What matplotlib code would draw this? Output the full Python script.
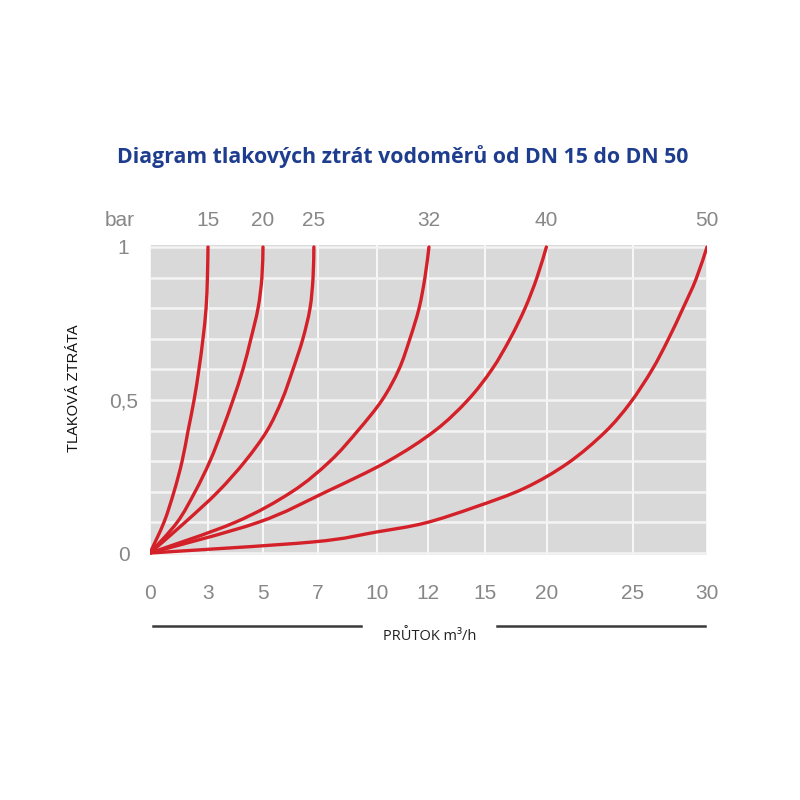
import numpy as np
import matplotlib
matplotlib.use('Agg')
import matplotlib.pyplot as plt
from matplotlib.path import Path
from matplotlib.patches import PathPatch

# flow axis is not linear in the original - ticks and where they sit (px from left edge)
flow_ticks = [0, 3, 5, 7, 10, 12, 15, 20, 25, 30]
flow_pos = [0, 58, 113, 168, 227, 278, 335, 397, 483, 557]

dn_names = ['15', '20', '25', '32', '40', '50']
loss_levels = [0, 0.1, 0.2, 0.3, 0.4, 0.5, 0.6, 0.7, 0.8, 0.9, 1.0]

dn15_x = [0, 0.72, 1.24, 1.66, 1.97, 2.28, 2.53, 2.74, 2.9, 2.97, 3.0]
dn20_x = [0, 1.4, 2.33, 3.07, 3.51, 3.91, 4.27, 4.56, 4.82, 4.96, 5.0]
dn25_x = [0, 1.81, 3.36, 4.35, 5.15, 5.69, 6.09, 6.45, 6.71, 6.82, 6.85]
dn32_x = [0, 3.98, 6.05, 7.61, 9.03, 10.2, 10.86, 11.29, 11.65, 11.88, 12.05]
dn40_x = [0, 4.82, 7.41, 10.43, 12.37, 14.1, 15.56, 17.02, 18.23, 19.19, 19.95]
dn50_x = [0, 6.8, 10.0, 11.88, 14.47, 18.2, 21.22, 23.37, 24.83, 26.28, 27.36, 28.38, 29.26, 30]
dn50_y = [0, 0.036, 0.069, 0.098, 0.15, 0.212, 0.294, 0.395, 0.49, 0.598, 0.696, 0.8, 0.895, 1.0]

curves = [(dn15_x, loss_levels), (dn20_x, loss_levels), (dn25_x, loss_levels),
          (dn32_x, loss_levels), (dn40_x, loss_levels), (dn50_x, dn50_y)]


def fwd(x):
    return np.interp(x, flow_ticks, flow_pos)


def inv(p):
    return np.interp(p, flow_pos, flow_ticks)


def smooth_path(pts):
    # catmull-rom through the read points, drawn as bezier segments
    p = np.vstack([pts[0], pts, pts[-1]])
    verts = [p[1]]
    codes = [Path.MOVETO]
    for i in range(1, len(p) - 2):
        c1 = p[i] + (p[i + 1] - p[i - 1]) / 6.0
        c2 = p[i + 1] - (p[i + 2] - p[i]) / 6.0
        verts += [c1, c2, p[i + 1]]
        codes += [Path.CURVE4] * 3
    return Path(verts, codes)


num_font = ['Liberation Sans Narrow', 'Liberation Sans']
grey = '#878787'

fig = plt.figure(figsize=(8, 8), dpi=100)
ax = fig.add_axes([150 / 800, 1 - 555 / 800, 557 / 800, 310 / 800])
ax.set_facecolor('#d9d9d9')
ax.set_xscale('function', functions=(fwd, inv))
ax.set_xlim(0, 30)
ax.set_ylim(-0.0065, 1.0065)

to_axes = ax.transData + ax.transAxes.inverted()
for cx, cy in curves:
    pts = to_axes.transform(np.column_stack([cx, cy]))
    ax.add_patch(PathPatch(smooth_path(pts), transform=ax.transAxes, fill=False,
                           edgecolor='#d42129', lw=2.4, capstyle='round',
                           joinstyle='round', zorder=3))

ax.set_xticks(flow_ticks)
ax.set_xticklabels([str(t) for t in flow_ticks])
ax.set_yticks([0, 0.5, 1])
ax.set_yticklabels(['0', '0,5', '1'])
ax.set_yticks(loss_levels, minor=True)
ax.tick_params(axis='both', which='both', length=0)
ax.tick_params(axis='x', pad=21, labelsize=15, labelcolor=grey)
ax.tick_params(axis='y', pad=19, labelsize=15, labelcolor=grey)
for lab in ax.get_xticklabels() + ax.get_yticklabels():
    lab.set_family(num_font)
for lab in ax.get_yticklabels():
    lab.set_horizontalalignment('center')

ax.grid(True, axis='x', color='white', lw=1.3, alpha=0.9)
ax.grid(True, axis='y', which='both', color='#f4f4f4', lw=1.8)
ax.set_axisbelow(True)
for s in ax.spines.values():
    s.set_visible(False)

# DN labels above the ends of the curves
for name, (cx, cy) in zip(dn_names, curves):
    ax.annotate(name, xy=(cx[-1], 1.0), xytext=(0, 26), textcoords='offset pixels',
                ha='center', va='center', fontsize=15, color=grey, family=num_font)
ax.annotate('bar', xy=(0, 1.0), xytext=(-30, 26), textcoords='offset pixels',
            ha='center', va='center', fontsize=15, color=grey, family=num_font)

# x label with lines on both sides
ax.plot([0.005, 0.379], [-0.229, -0.229], transform=ax.transAxes, color='#3a3a3a',
        lw=1.8, clip_on=False)
ax.plot([0.623, 0.996], [-0.229, -0.229], transform=ax.transAxes, color='#3a3a3a',
        lw=1.8, clip_on=False)
fig.text(430 / 800, 1 - 637 / 800, 'PRŮTOK m³/h', ha='center', va='center',
         fontsize=10.5, family='Open Sans', color='#222222')
fig.text(74 / 800, 1 - 388 / 800, 'TLAKOVÁ ZTRÁTA', rotation=90, ha='center',
         va='center', fontsize=10.5, family='Liberation Sans', color='#111111')

fig.text(403 / 800, 1 - 157 / 800, 'Diagram tlakových ztrát vodoměrů od DN 15 do DN 50',
         ha='center', va='center', fontsize=15.3, fontweight='bold',
         family='Open Sans', color='#1f3d8f')

fig.savefig('out.png', dpi=100)
